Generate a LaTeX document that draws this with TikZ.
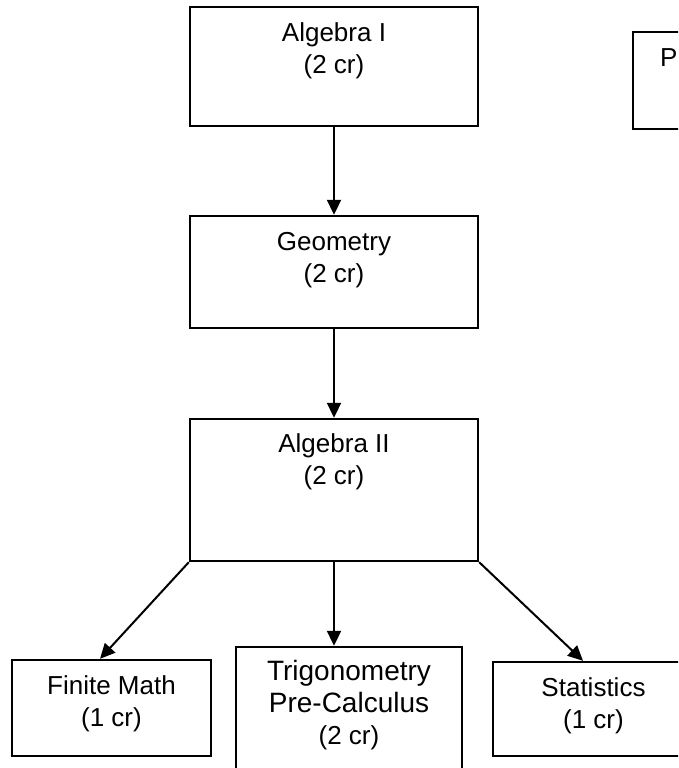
\documentclass[tikz,border=0pt]{standalone}
\usepackage{fontspec}
\setmainfont{Liberation Sans}
\usetikzlibrary{positioning, arrows.meta, calc}

\begin{document}
\begin{tikzpicture}[x=1pt, y=-1pt, >={Triangle[length=15pt, width=14pt]}]
            \tikzset{
                course/.style={
                        rectangle, draw, line width=2.4pt, inner sep=0pt
                    },
                ctext/.style={
                        align=center, inner sep=0pt,
                        font=\fontsize{26pt}{32pt}\selectfont
                    },
                link/.style={
                        ->, line width=2pt
                    }
            }

            \useasboundingbox (0,0) rectangle (678,768);
            \clip (0,0) rectangle (678,768);

            % Main chain
            \node[course, minimum width=288pt, minimum height=119pt] (alg1) at (334,66.5) {};
            \node[course, minimum width=288pt, minimum height=112pt] (geom) at (334,272) {};
            \node[course, minimum width=288pt, minimum height=142pt] (alg2) at (334,490) {};

            \node[ctext, below=17pt of alg1.north] (alg1txt) {Algebra I\\(2 cr)};
            \node[ctext, below=17pt of geom.north] (geomtxt) {Geometry\\(2 cr)};
            \node[ctext, below=16pt of alg2.north] (alg2txt) {Algebra II\\(2 cr)};

            % Bottom row
            \node[course, minimum width=199pt, minimum height=96pt] (finite) at (111.5,708) {};
            \node[course, minimum width=226pt, minimum height=143pt] (trig) at (349,718.5) {};
            \node[course, minimum width=201pt, minimum height=94pt] (stats) at (593.5,709) {};

            \node[ctext, below=17pt of finite.north] (finitetxt) {Finite Math\\(1 cr)};
            \node[ctext, below=14pt of trig.north, font=\fontsize{28pt}{32pt}\selectfont] (trigtxt)
                {Trigonometry\\Pre-Calculus\\{\fontsize{26pt}{30pt}\selectfont (2 cr)}};
            \node[ctext, below=17pt of stats.north] (statstxt) {Statistics\\(1 cr)};

            % Box at the right edge
            \node[course, minimum width=200pt, minimum height=97pt] (pbox) at (733,80.5) {};
            \node[ctext, anchor=north west] (ptxt) at ($(pbox.north west)+(28,18)$) {P};

            % Arrows
            \draw[link] (alg1) -- (geom);
            \draw[link] (geom) -- (alg2);
            \draw[link] (alg2.south west) -- ($(finite.north)+(-11.5,0)$);
            \draw[link] (alg2.south) -- (alg2.south |- trig.north);
            \draw[link] (alg2.south east) -- ($(stats.north)+(-10.5,0)$);
        \end{tikzpicture}
\end{document}
